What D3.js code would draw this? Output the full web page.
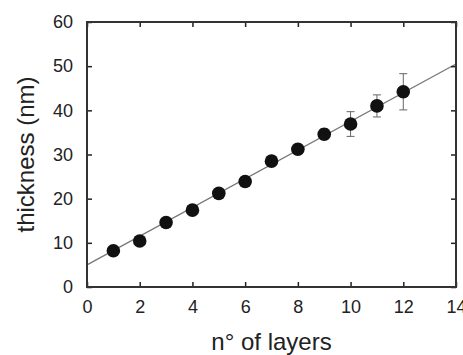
<!DOCTYPE html>
<html>
<head>
<meta charset="utf-8">
<script src="https://cdn.jsdelivr.net/npm/d3@7"></script>
<style>
  body { margin: 0; background: #fff; }
  text { font-family: "Liberation Sans", Arial, Helvetica, sans-serif; fill: #222; }
</style>
</head>
<body>
<div id="canvas"></div>
<script>
// datos
var capas = [1, 2, 3, 4, 5, 6, 7, 8, 9, 10, 11, 12];
var espesor = [8.2, 10.4, 14.6, 17.4, 21.2, 23.9, 28.5, 31.2, 34.6, 36.9, 41.0, 44.2];
var errores = [0.8, 0.8, 0.9, 0.9, 1.0, 1.0, 1.1, 1.1, 1.2, 2.8, 2.5, 4.1];
var ajuste = { ordenada: 5.0, pendiente: 3.25 };
var ticksX = [0, 2, 4, 6, 8, 10, 12, 14];
var ticksY = [0, 10, 20, 30, 40, 50, 60];

var width = 463;
var height = 355;
var margin = {top: 22, right: 7, bottom: 68, left: 87};
var w = width - margin.left - margin.right;
var h = height - margin.top - margin.bottom;

var svg = d3.select("#canvas").append("svg")
    .attr("width", width)
    .attr("height", height);

var g = svg.append("g")
    .attr("transform", "translate(" + margin.left + "," + margin.top + ")");

var x = d3.scaleLinear().domain([0, 14]).range([0, w]);
var y = d3.scaleLinear().domain([0, 60]).range([h, 0]);

var datos = capas.map(function(c, i) {
    return { x: c, y: espesor[i], e: errores[i] };
});

// recta de ajuste
g.append("line")
    .attr("x1", x(0))
    .attr("y1", y(ajuste.ordenada))
    .attr("x2", x(14))
    .attr("y2", y(ajuste.ordenada + ajuste.pendiente * 14))
    .attr("stroke", "#777")
    .attr("stroke-width", 1.3);

// barras de error
var eb = g.selectAll(".error")
    .data(datos)
    .enter().append("g")
    .attr("class", "error")
    .attr("stroke", "#666")
    .attr("stroke-width", 1);

eb.append("line")
    .attr("x1", function(d) { return x(d.x); })
    .attr("x2", function(d) { return x(d.x); })
    .attr("y1", function(d) { return y(d.y - d.e); })
    .attr("y2", function(d) { return y(d.y + d.e); });

eb.selectAll(".cap")
    .data(function(d) { return [d.y - d.e, d.y + d.e].map(function(v) { return {x: d.x, v: v}; }); })
    .enter().append("line")
    .attr("x1", function(d) { return x(d.x) - 4; })
    .attr("x2", function(d) { return x(d.x) + 4; })
    .attr("y1", function(d) { return y(d.v); })
    .attr("y2", function(d) { return y(d.v); });

// puntos
g.selectAll(".punto")
    .data(datos)
    .enter().append("circle")
    .attr("class", "punto")
    .attr("cx", function(d) { return x(d.x); })
    .attr("cy", function(d) { return y(d.y); })
    .attr("r", 6.8)
    .attr("fill", "#111");

// ejes con ticks hacia dentro en los cuatro lados
function estiloEje(sel) {
    sel.select(".domain").remove();
    sel.selectAll(".tick line").attr("stroke", "#222").attr("stroke-width", 1.5);
    sel.selectAll(".tick text")
        .style("font-size", "18px")
        .attr("fill", "#333");
}

g.append("g")
    .attr("transform", "translate(0," + h + ")")
    .call(d3.axisBottom(x).tickValues(ticksX).tickSize(-5).tickPadding(13))
    .call(estiloEje);

g.append("g")
    .call(d3.axisTop(x).tickValues(ticksX).tickSize(-5).tickFormat(""))
    .call(estiloEje);

g.append("g")
    .call(d3.axisLeft(y).tickValues(ticksY).tickSize(-5).tickPadding(14))
    .call(estiloEje);

g.append("g")
    .attr("transform", "translate(" + w + ",0)")
    .call(d3.axisRight(y).tickValues(ticksY).tickSize(-5).tickFormat(""))
    .call(estiloEje);

// marco
g.append("rect")
    .attr("x", 0)
    .attr("y", 0)
    .attr("width", w)
    .attr("height", h)
    .attr("fill", "none")
    .attr("stroke", "#333")
    .attr("stroke-width", 2);

// titulos
svg.append("text")
    .attr("x", margin.left + w / 2)
    .attr("y", 350)
    .attr("text-anchor", "middle")
    .style("font-size", "24px")
    .text("n° of layers");

svg.append("text")
    .attr("transform", "translate(34," + (margin.top + h / 2) + ") rotate(-90)")
    .attr("text-anchor", "middle")
    .style("font-size", "24px")
    .text("thickness (nm)");
</script>
</body>
</html>
